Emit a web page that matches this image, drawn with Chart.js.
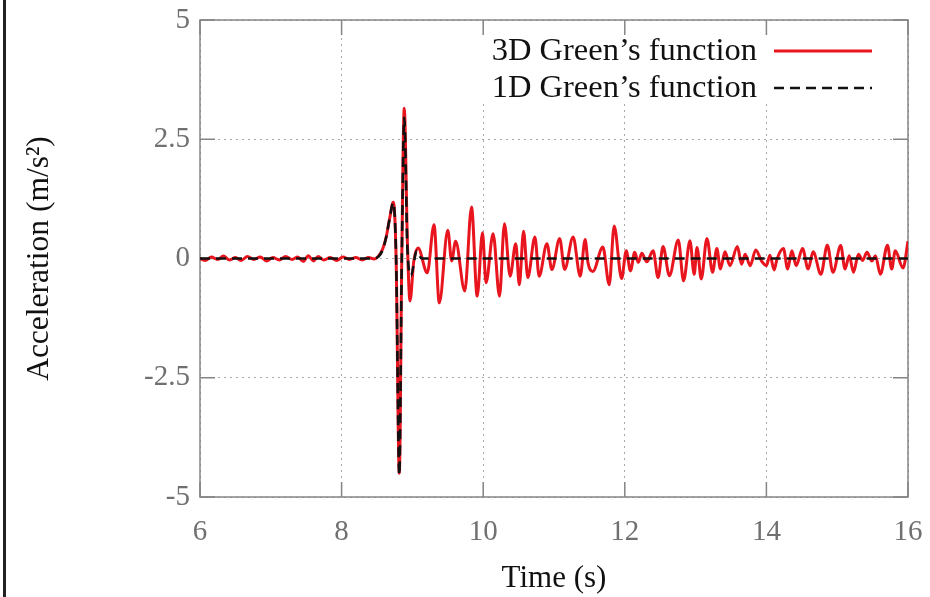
<!DOCTYPE html>
<html>
<head>
<meta charset="utf-8">
<title>Acceleration</title>
<script src="https://cdn.jsdelivr.net/npm/chart.js@4.4.1/dist/chart.umd.min.js"></script>
<style>
  html, body { margin: 0; padding: 0; background: #fff; }
  #wrap { position: relative; width: 930px; height: 597px; }
  #edge { position: absolute; left: 3px; top: 0; width: 3px; height: 597px; background: #222; }
</style>
</head>
<body>
<div id="wrap">
  <canvas id="accel" width="930" height="597"></canvas>
  <div id="edge"></div>
</div>
<script>
// 3D Green's function record
const redTime = [
  6.00, 6.08, 6.16, 6.25, 6.33, 6.42, 6.50, 6.58, 6.67, 6.76, 6.85, 6.94,
  7.03, 7.12, 7.21, 7.30, 7.38, 7.46, 7.53, 7.60, 7.67, 7.75, 7.84, 7.93,
  8.02, 8.11, 8.20, 8.29, 8.38, 8.46, 8.52, 8.58, 8.63, 8.68, 8.73, 8.77,
  8.815, 8.85, 8.885, 8.93, 8.966, 9.02, 9.08, 9.21, 9.305, 9.38, 9.50, 9.555,
  9.61, 9.74, 9.835, 9.915, 9.99, 10.04, 10.14, 10.23, 10.30, 10.38, 10.46, 10.51,
  10.57, 10.63, 10.73, 10.79, 10.90, 10.97, 11.08, 11.15, 11.27, 11.37, 11.44, 11.48,
  11.55, 11.69, 11.78, 11.85, 11.955, 12.02, 12.08, 12.14, 12.19, 12.24, 12.31, 12.40,
  12.47, 12.54, 12.63, 12.755, 12.83, 12.92, 12.98, 13.02, 13.08, 13.16, 13.24, 13.30,
  13.35, 13.415, 13.485, 13.59, 13.65, 13.70, 13.77, 13.85, 13.93, 14.00, 14.05, 14.11,
  14.15, 14.24, 14.30, 14.36, 14.42, 14.51, 14.59, 14.66, 14.77, 14.86, 14.94, 15.05,
  15.11, 15.17, 15.23, 15.30, 15.36, 15.42, 15.49, 15.54, 15.61, 15.71, 15.77, 15.82,
  15.93, 16.00
];
const redAccel = [
  0.00, -0.04, 0.03, -0.02, 0.05, -0.03, 0.02, -0.04, 0.04, -0.02, 0.03, -0.05,
  0.02, -0.03, 0.04, -0.02, 0.03, -0.06, 0.06, -0.05, 0.04, -0.03, 0.02, -0.04,
  0.03, -0.02, 0.02, -0.03, 0.02, -0.01, 0.05, 0.20, 0.45, 0.85, 1.18, 0.00,
  -4.50, 0.00, 3.15, 0.30, -0.89, -0.05, 0.22, -0.30, 0.71, -0.93, 0.59, -0.05,
  0.36, -0.68, 1.08, -0.79, 0.54, -0.51, 0.52, -0.79, 0.73, -0.37, 0.31, -0.55,
  0.57, -0.40, 0.45, -0.37, 0.31, -0.23, 0.42, -0.23, 0.45, -0.37, 0.40, -0.09,
  -0.27, 0.24, -0.55, 0.68, -0.42, 0.16, -0.26, 0.13, -0.08, 0.11, -0.07, 0.16,
  -0.40, 0.25, -0.36, 0.39, -0.47, 0.37, -0.33, 0.23, -0.43, 0.42, -0.29, 0.21,
  -0.22, 0.14, -0.15, 0.25, -0.12, 0.09, -0.15, 0.18, -0.05, -0.15, 0.07, -0.24,
  -0.01, 0.21, -0.22, 0.16, -0.15, 0.21, -0.22, 0.14, -0.33, 0.28, -0.29, 0.27,
  -0.22, 0.06, -0.29, 0.09, -0.04, 0.13, -0.05, 0.06, -0.33, 0.28, -0.22, 0.16,
  -0.20, 0.36
];

// 1D Green's function record
const blackTime = [6.00, 8.45, 8.52, 8.58, 8.63, 8.68, 8.73, 8.77, 8.815, 8.85, 8.885, 8.93, 8.98, 9.06, 9.13, 16.00];
const blackAccel = [0.00, 0.00, 0.04, 0.18, 0.45, 0.85, 1.17, 0.00, -4.54, 0.00, 2.95, 0.20, -0.36, 0.16, 0.00, 0.00];

const xTicks = [6, 8, 10, 12, 14, 16];
const yTicks = [-5, -2.5, 0, 2.5, 5];

const serif = '"Liberation Serif", "Times New Roman", serif';

const toPoints = (ts, vs) => ts.map((t, i) => ({x: t, y: vs[i]}));

// white key box, solid frame and inward tick marks
const frame = {
  id: 'frame',
  beforeDatasetsDraw(chart) {
    const {ctx, chartArea: a, scales} = chart;
    ctx.save();
    ctx.fillStyle = '#fff';
    ctx.fillRect(a.right - 428, a.top + 13, 424, 70);
    ctx.strokeStyle = '#858585';
    ctx.lineWidth = 1.5;
    ctx.setLineDash([]);
    ctx.beginPath();
    scales.x.ticks.forEach(t => {
      const px = scales.x.getPixelForValue(t.value);
      ctx.moveTo(px, a.bottom); ctx.lineTo(px, a.bottom - 15);
      ctx.moveTo(px, a.top); ctx.lineTo(px, a.top + 15);
    });
    scales.y.ticks.forEach(t => {
      const py = scales.y.getPixelForValue(t.value);
      ctx.moveTo(a.left, py); ctx.lineTo(a.left + 15, py);
      ctx.moveTo(a.right, py); ctx.lineTo(a.right - 15, py);
    });
    ctx.stroke();
    ctx.strokeRect(a.left, a.top, a.right - a.left, a.bottom - a.top);
    ctx.restore();
  }
};

// key with the label on the left and the line sample on the right
const keyBox = {
  id: 'keyBox',
  afterDraw(chart) {
    const {ctx, chartArea: a} = chart;
    chart.data.datasets.forEach((ds, i) => {
      const y = a.top + 31 + i * 37;
      ctx.save();
      ctx.font = '32.5px ' + serif;
      ctx.fillStyle = '#111';
      ctx.textAlign = 'right';
      ctx.textBaseline = 'middle';
      ctx.fillText(ds.label, a.right - 151, y);
      ctx.strokeStyle = ds.borderColor;
      ctx.lineWidth = ds.borderWidth;
      ctx.setLineDash(ds.borderDash || []);
      ctx.beginPath();
      ctx.moveTo(a.right - 134, y);
      ctx.lineTo(a.right - 36, y);
      ctx.stroke();
      ctx.restore();
    });
  }
};

new Chart(document.getElementById('accel'), {
  type: 'line',
  data: {
    datasets: [{
      label: '3D Green\u2019s function',
      data: toPoints(redTime, redAccel),
      borderColor: '#e8141e',
      borderWidth: 3,
      pointRadius: 0,
      cubicInterpolationMode: 'monotone',
      order: 2
    }, {
      label: '1D Green\u2019s function',
      data: toPoints(blackTime, blackAccel),
      borderColor: '#111',
      borderWidth: 2.6,
      borderDash: [10, 6],
      pointRadius: 0,
      cubicInterpolationMode: 'monotone',
      order: 1
    }]
  },
  options: {
    responsive: false,
    animation: false,
    devicePixelRatio: 1,
    layout: {padding: {top: 20, right: 22, left: 0, bottom: 0}},
    plugins: {legend: {display: false}, tooltip: {enabled: false}},
    scales: {
      x: {
        type: 'linear',
        min: 6, max: 16,
        afterBuildTicks: s => { s.ticks = xTicks.map(v => ({value: v})); },
        afterFit: s => { s.height = 100; s.paddingLeft = 0; s.paddingRight = 0; },
        ticks: {color: '#707070', font: {family: serif, size: 29}, padding: 18, callback: v => String(v)},
        grid: {color: '#a8a8a8', lineWidth: 1, drawTicks: false},
        border: {display: false, dash: [2, 4]},
        title: {display: true, text: 'Time (s)', color: '#111', font: {family: serif, size: 31}, padding: {top: 0, bottom: 0}}
      },
      y: {
        min: -5, max: 5,
        afterBuildTicks: s => { s.ticks = yTicks.map(v => ({value: v})); },
        afterFit: s => { s.width = 200; s.paddingTop = 0; s.paddingBottom = 0; },
        ticks: {color: '#707070', font: {family: serif, size: 29}, padding: 10, callback: v => String(v)},
        grid: {color: '#a8a8a8', lineWidth: 1, drawTicks: false},
        border: {display: false, dash: [2, 4]},
        title: {display: true, text: 'Acceleration (m/s\u00b2)', color: '#111', font: {family: serif, size: 31.5}, padding: {top: 21, bottom: 0}}
      }
    }
  },
  plugins: [frame, keyBox]
});
</script>
</body>
</html>
